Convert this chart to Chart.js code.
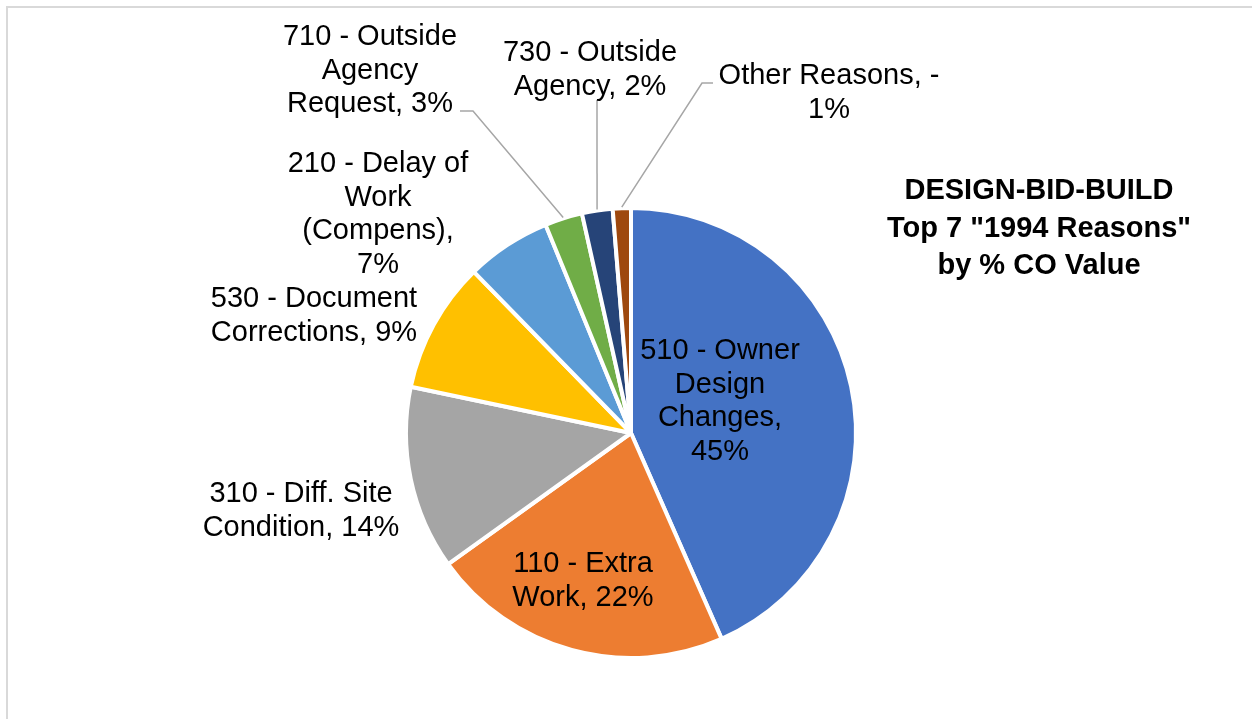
<!DOCTYPE html>
<html>
<head>
<meta charset="utf-8">
<script src="https://cdn.jsdelivr.net/npm/chart.js@4/dist/chart.umd.min.js"></script>
<style>
  html, body { margin: 0; padding: 0; background: #fff; overflow: hidden; }
  #wrap { position: relative; width: 1252px; height: 719px; }
  #frame { position: absolute; left: 6px; top: 6px; width: 1300px; height: 800px;
           border-left: 2px solid #d9d9d9; border-top: 2px solid #d9d9d9; box-sizing: border-box; }
  canvas { position: absolute; left: 0; top: 0; }
</style>
</head>
<body>
<div id="wrap">
  <div id="frame"></div>
  <canvas id="c" width="1252" height="719"></canvas>
</div>
<script>
// ---- Data ----
const categories = [
  '510 - Owner Design Changes',
  '110 - Extra Work',
  '310 - Diff. Site Condition',
  '530 - Document Corrections',
  '210 - Delay of Work (Compens)',
  '710 - Outside Agency Request',
  '730 - Outside Agency',
  'Other Reasons'
];
const values = [43.4, 21.7, 13.2, 9.4, 6.1, 2.7, 2.2, 1.3];
const percentLabels = ['45%', '22%', '14%', '9%', '7%', '3%', '2%', '1%'];
const labelLines = [
  ['510 - Owner', 'Design', 'Changes,', '45%'],
  ['110 - Extra', 'Work, 22%'],
  ['310 - Diff. Site', 'Condition, 14%'],
  ['530 - Document', 'Corrections, 9%'],
  ['210 - Delay of', 'Work', '(Compens),', '7%'],
  ['710 - Outside', 'Agency', 'Request, 3%'],
  ['730 - Outside', 'Agency, 2%'],
  ['Other Reasons, -', '1%']
];
const titleLines = ['DESIGN-BID-BUILD', 'Top 7 "1994 Reasons"', 'by % CO Value'];
const colors = ['#4472C4', '#ED7D31', '#A5A5A5', '#FFC000', '#5B9BD5', '#70AD47', '#264478', '#9E480E'];

// ---- Layout (text placement relative to pie centre) ----
const FONT = '"Liberation Sans", Arial, sans-serif';
const labelPos = [[89, -82], [-48, 131], [-330, 61], [-317, -134], [-253, -269], [-261, -396], [-41, -380], [198, -357]];
const leaders = [
  { index: 5, from: [-171, -322], elbow: [-158, -322] },
  { index: 6, from: [-34, -333], elbow: null },
  { index: 7, from: [82, -350], elbow: [71, -350] }
];

const labelPlugin = {
  id: 'labels',
  afterDraw(chart) {
    const ctx = chart.ctx;
    const meta = chart.getDatasetMeta(0);
    const arcs = meta.data;
    const p0 = arcs[0].getProps(['x', 'y'], true);
    const cx = p0.x, cy = p0.y;
    ctx.save();
    // leader lines
    ctx.strokeStyle = '#a6a6a6';
    ctx.lineWidth = 1.5;
    leaders.forEach(l => {
      const a = arcs[l.index].getProps(['startAngle', 'endAngle', 'outerRadius'], true);
      const mid = (a.startAngle + a.endAngle) / 2;
      const r = a.outerRadius + 1;
      const ex = cx + Math.cos(mid) * r, ey = cy + Math.sin(mid) * r;
      ctx.beginPath();
      ctx.moveTo(cx + l.from[0], cy + l.from[1]);
      if (l.elbow) ctx.lineTo(cx + l.elbow[0], cy + l.elbow[1]);
      ctx.lineTo(ex, ey);
      ctx.stroke();
    });
    // labels
    ctx.fillStyle = '#000';
    ctx.font = '29px ' + FONT;
    ctx.textAlign = 'center';
    ctx.textBaseline = 'middle';
    labelLines.forEach((lines, i) => {
      const [dx, dy] = labelPos[i];
      lines.forEach((t, k) => ctx.fillText(t, cx + dx, cy + dy + k * 33.5));
    });
    // title
    ctx.font = 'bold 29px ' + FONT;
    titleLines.forEach((t, k) => ctx.fillText(t, 1039, 191 + k * 37.5));
    ctx.restore();
  }
};

new Chart(document.getElementById('c'), {
  type: 'pie',
  data: {
    labels: categories,
    datasets: [{
      data: values,
      backgroundColor: colors,
      borderColor: '#ffffff',
      borderWidth: 4,
      hoverOffset: 0,
      radius: 225
    }]
  },
  options: {
    responsive: false,
    animation: false,
    layout: { padding: { left: 407, right: 397, top: 209, bottom: 62 } },
    plugins: { legend: { display: false }, tooltip: { enabled: false } },
    events: []
  },
  plugins: [labelPlugin]
});
</script>
</body>
</html>
